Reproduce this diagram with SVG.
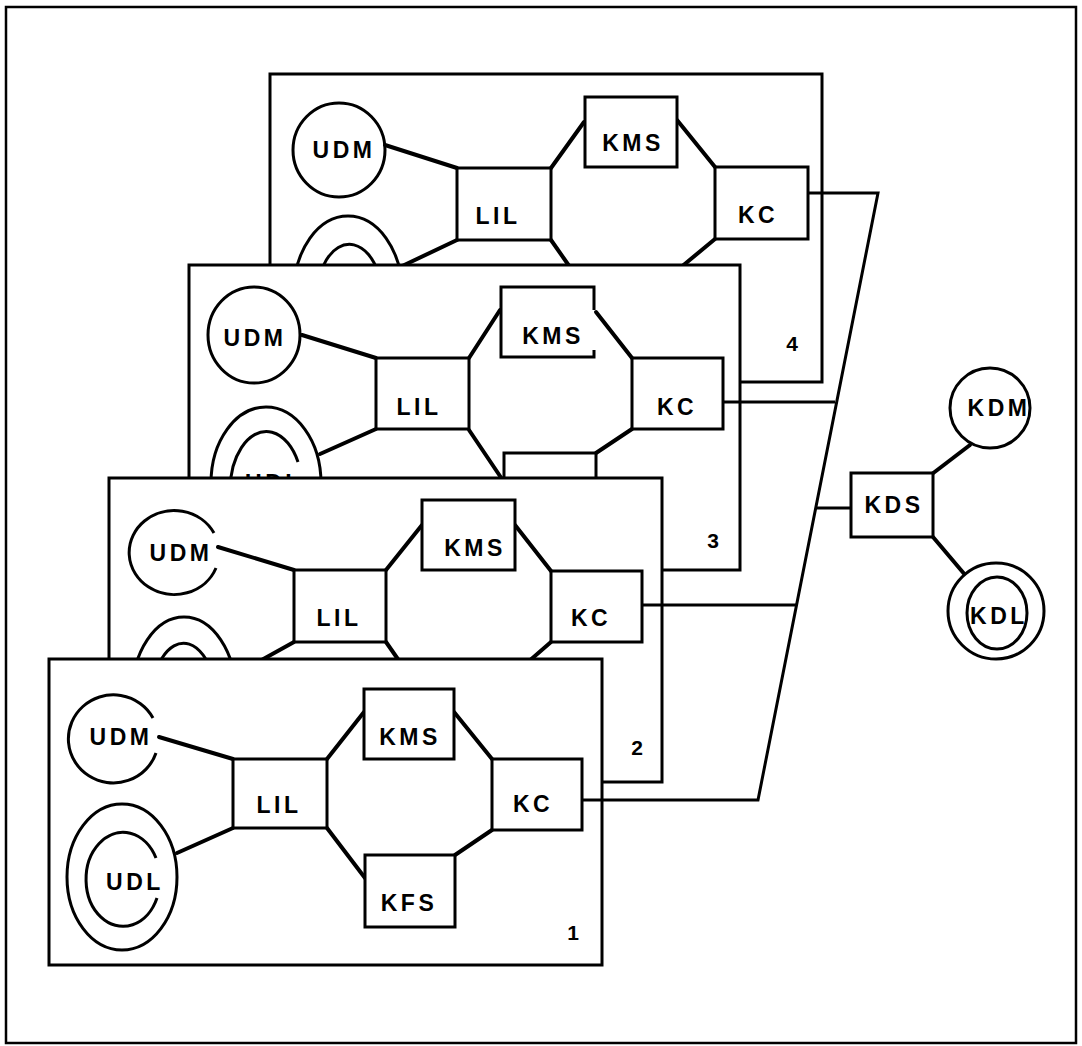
<svg xmlns="http://www.w3.org/2000/svg" width="1082" height="1046" viewBox="0 0 1082 1046">
<style>
.frame{fill:none;stroke:#000;stroke-width:2.5}
.panel{fill:#fff;stroke:#000;stroke-width:3}
.box{fill:#fff;stroke:#000;stroke-width:3}
.ring{fill:#fff;stroke:#000;stroke-width:3}
.arc{fill:none;stroke:#000;stroke-width:3}
.ln{fill:none;stroke:#000;stroke-width:4;stroke-linecap:round}
.ext{fill:none;stroke:#000;stroke-width:3}
text{font-family:"Liberation Sans",Arial,sans-serif;font-weight:bold;font-size:23px;letter-spacing:3.5px;text-anchor:middle;dominant-baseline:central;fill:#000}
.num{font-size:21px;letter-spacing:0}
</style>
<rect class="frame" x="6" y="7" width="1070" height="1036"/>

<g id="panel4">
<rect class="panel" x="270" y="74" width="552" height="308"/>
<g id="p4-udm"><ellipse class="ring" cx="339" cy="150" rx="46" ry="47"/><text x="344" y="150">UDM</text></g>
<g id="p4-udl"><ellipse class="ring" cx="348" cy="292" rx="54" ry="76"/><path class="arc" d="M378,272 A33,55 0 1 0 381,315"/></g>
<g id="p4-lines">
<line class="ln" x1="385" y1="145" x2="457" y2="168"/>
<line class="ln" x1="551" y1="168" x2="584" y2="122"/>
<line class="ln" x1="677" y1="120" x2="715" y2="167"/>
<line class="ln" x1="457" y1="240" x2="398" y2="268"/>
<line class="ln" x1="551" y1="240" x2="572" y2="270"/>
<line class="ln" x1="715" y1="239" x2="680" y2="268"/>
</g>
<g id="p4-lil"><rect class="box" x="457" y="168" width="94" height="72"/><text x="498" y="216">LIL</text></g>
<g id="p4-kms"><rect class="box" x="585" y="97" width="92" height="70"/><text x="633" y="143">KMS</text></g>
<g id="p4-kc"><rect class="box" x="715" y="167" width="93" height="72"/><text x="758" y="215">KC</text></g>
<text class="num" x="792" y="343">4</text>
</g>

<g id="panel3">
<rect class="panel" x="189" y="265" width="551" height="305"/>
<g id="p3-udm"><ellipse class="ring" cx="254" cy="335" rx="46" ry="48"/><text x="255" y="338">UDM</text></g>
<g id="p3-udl"><ellipse class="ring" cx="266" cy="483" rx="55" ry="76"/><path class="arc" d="M298,462 A36,58 0 1 0 301,505"/><text x="274" y="483">UDL</text></g>
<g id="p3-lines">
<line class="ln" x1="302" y1="335" x2="376" y2="358"/>
<line class="ln" x1="469" y1="358" x2="500" y2="310"/>
<line class="ln" x1="596" y1="312" x2="632" y2="358"/>
<line class="ln" x1="376" y1="429" x2="320" y2="454"/>
<line class="ln" x1="469" y1="430" x2="504" y2="482"/>
<line class="ln" x1="632" y1="429" x2="596" y2="453"/>
</g>
<g id="p3-lil"><rect class="box" x="376" y="358" width="93" height="71"/><text x="419" y="407">LIL</text></g>
<g id="p3-kms"><rect x="501" y="287" width="93" height="70" fill="#fff"/><path class="arc" d="M594,350 V357 H501 V287 H594 V310"/><text x="553" y="336">KMS</text></g>
<g id="p3-kc"><rect class="box" x="632" y="358" width="91" height="71"/><text x="677" y="407">KC</text></g>
<g id="p3-kfs"><rect class="box" x="504" y="453" width="92" height="72"/></g>
<text class="num" x="713" y="540">3</text>
</g>

<g id="panel2">
<rect class="panel" x="109" y="478" width="553" height="304"/>
<g id="p2-udm"><path class="arc" d="M214,533 A45,42 0 1 0 216,568"/><text x="181" y="553">UDM</text></g>
<g id="p2-udl"><ellipse class="ring" cx="184" cy="695" rx="52" ry="78"/><path class="arc" d="M212,674 A32,57 0 1 0 214,718"/></g>
<g id="p2-lines">
<line class="ln" x1="218" y1="547" x2="294" y2="570"/>
<line class="ln" x1="386" y1="570" x2="422" y2="525"/>
<line class="ln" x1="515" y1="525" x2="551" y2="571"/>
<line class="ln" x1="294" y1="642" x2="258" y2="662"/>
<line class="ln" x1="386" y1="642" x2="402" y2="665"/>
<line class="ln" x1="551" y1="642" x2="528" y2="662"/>
</g>
<g id="p2-lil"><rect class="box" x="294" y="570" width="92" height="72"/><text x="339" y="618">LIL</text></g>
<g id="p2-kms"><rect class="box" x="422" y="500" width="93" height="70"/><text x="475" y="548">KMS</text></g>
<g id="p2-kc"><rect class="box" x="551" y="571" width="91" height="71"/><text x="591" y="618">KC</text></g>
<text class="num" x="637" y="747">2</text>
</g>

<g id="panel1">
<rect class="panel" x="49" y="659" width="553" height="306"/>
<g id="p1-udm"><path class="arc" d="M153,718 A45,44 0 1 0 156,753"/><text x="121" y="737">UDM</text></g>
<g id="p1-udl"><ellipse class="ring" cx="122" cy="877" rx="55" ry="73"/><path class="arc" d="M156,858 A37,47 0 1 0 157,898"/><text x="135" y="882">UDL</text></g>
<g id="p1-lines">
<line class="ln" x1="159" y1="737" x2="233" y2="759"/>
<line class="ln" x1="327" y1="759" x2="364" y2="712"/>
<line class="ln" x1="454" y1="712" x2="492" y2="759"/>
<line class="ln" x1="327" y1="828" x2="365" y2="878"/>
<line class="ln" x1="455" y1="855" x2="492" y2="830"/>
<line class="ln" x1="233" y1="828" x2="177" y2="853"/>
</g>
<g id="p1-lil"><rect class="box" x="233" y="759" width="94" height="69"/><text x="279" y="805">LIL</text></g>
<g id="p1-kms"><rect class="box" x="364" y="689" width="90" height="70"/><text x="410" y="737">KMS</text></g>
<g id="p1-kc"><rect class="box" x="492" y="759" width="90" height="71"/><text x="533" y="804">KC</text></g>
<g id="p1-kfs"><rect class="box" x="365" y="855" width="90" height="72"/><text x="409" y="903">KFS</text></g>
<text class="num" x="573" y="932">1</text>
</g>

<g id="connectors">
<polyline class="ext" points="808,193 878,193 758,800 582,800"/>
<line class="ext" x1="723" y1="402" x2="835" y2="402"/>
<line class="ext" x1="642" y1="605" x2="796" y2="605"/>
<line class="ext" x1="817" y1="508" x2="851" y2="508"/>
<line class="ln" x1="932" y1="474" x2="970" y2="445"/>
<line class="ln" x1="933" y1="537" x2="966" y2="576"/>
</g>

<g id="kds"><rect class="box" x="851" y="473" width="82" height="64"/><text x="894" y="505">KDS</text></g>
<g id="kdm"><circle class="ring" cx="990" cy="408" r="40"/><text x="999" y="408">KDM</text></g>
<g id="kdl"><circle class="ring" cx="996" cy="611" r="48"/><ellipse class="ring" cx="997" cy="613" rx="30" ry="36"/><text x="999" y="616">KDL</text></g>
</svg>
